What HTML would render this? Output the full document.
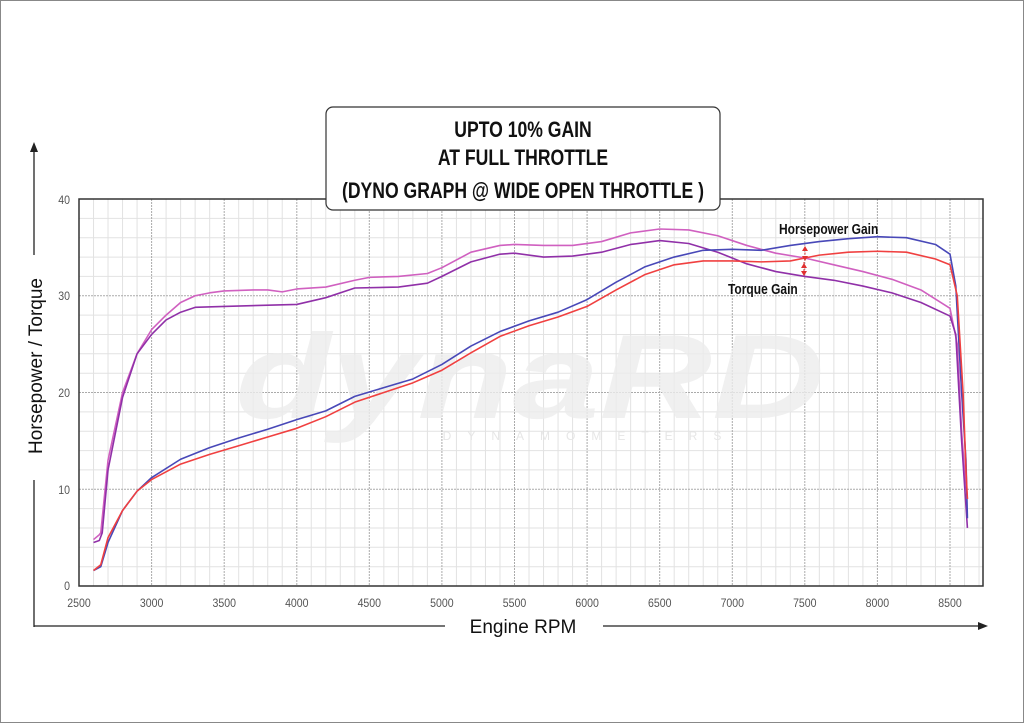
<!DOCTYPE html>
<html><head><meta charset="utf-8"><style>
html,body{margin:0;padding:0;background:#fff}
body{width:1024px;height:723px;overflow:hidden;position:relative;font-family:"Liberation Sans",sans-serif}
</style></head><body>
<svg width="1024" height="723" viewBox="0 0 1024 723" xmlns="http://www.w3.org/2000/svg">
<rect x="0.5" y="0.5" width="1023" height="722" fill="#fff" stroke="#888"/>
<line x1="34" y1="148" x2="34" y2="255" stroke="#222" stroke-width="1.3"/>
<line x1="34" y1="480" x2="34" y2="627" stroke="#222" stroke-width="1.3"/>
<polygon points="34,142 30,152 38,152" fill="#222"/>
<text transform="translate(42,366) rotate(-90)" text-anchor="middle" font-size="19" fill="#111">Horsepower / Torque</text>
<line x1="34" y1="626" x2="445" y2="626" stroke="#222" stroke-width="1.3"/>
<line x1="603" y1="626" x2="980" y2="626" stroke="#222" stroke-width="1.3"/>
<polygon points="988,626 978,622 978,630" fill="#222"/>
<text x="523" y="633" text-anchor="middle" font-size="19" fill="#111">Engine RPM</text>
<g stroke="#e2e2e2" stroke-width="1">
<line x1="79" y1="218.4" x2="983" y2="218.4"/><line x1="79" y1="237.7" x2="983" y2="237.7"/><line x1="79" y1="257.1" x2="983" y2="257.1"/><line x1="79" y1="276.4" x2="983" y2="276.4"/>
<line x1="79" y1="315.1" x2="983" y2="315.1"/><line x1="79" y1="334.5" x2="983" y2="334.5"/><line x1="79" y1="353.8" x2="983" y2="353.8"/><line x1="79" y1="373.2" x2="983" y2="373.2"/>
<line x1="79" y1="411.9" x2="983" y2="411.9"/><line x1="79" y1="431.2" x2="983" y2="431.2"/><line x1="79" y1="450.6" x2="983" y2="450.6"/><line x1="79" y1="469.9" x2="983" y2="469.9"/>
<line x1="79" y1="508.6" x2="983" y2="508.6"/><line x1="79" y1="528" x2="983" y2="528"/><line x1="79" y1="547.3" x2="983" y2="547.3"/><line x1="79" y1="566.7" x2="983" y2="566.7"/>
</g>
<g id="vminor" stroke="#e2e2e2" stroke-width="1"></g>
<g stroke="#aaa" stroke-width="1" stroke-dasharray="2,1">
<line x1="79" y1="295.8" x2="983" y2="295.8"/><line x1="79" y1="392.5" x2="983" y2="392.5"/><line x1="79" y1="489.3" x2="983" y2="489.3"/>
<line x1="151.6" y1="199" x2="151.6" y2="586"/><line x1="224.2" y1="199" x2="224.2" y2="586"/><line x1="296.8" y1="199" x2="296.8" y2="586"/><line x1="369.3" y1="199" x2="369.3" y2="586"/><line x1="441.9" y1="199" x2="441.9" y2="586"/><line x1="514.5" y1="199" x2="514.5" y2="586"/><line x1="587.1" y1="199" x2="587.1" y2="586"/><line x1="659.7" y1="199" x2="659.7" y2="586"/><line x1="732.3" y1="199" x2="732.3" y2="586"/><line x1="804.8" y1="199" x2="804.8" y2="586"/><line x1="877.4" y1="199" x2="877.4" y2="586"/><line x1="950" y1="199" x2="950" y2="586"/>
</g>
<text x="530" y="418" text-anchor="middle" font-size="120" font-style="italic" font-weight="bold" fill="#ececec" fill-opacity="0.8" transform="translate(530,0) scale(1.3,1) translate(-530,0)">dynaRD</text>
<text x="590" y="440" text-anchor="middle" font-size="12" fill="#e6e6e6" letter-spacing="16">DYNAMOMETERS</text>
<rect x="79" y="199" width="904" height="387" fill="none" stroke="#333" stroke-width="1.5"/>
<g font-size="12" fill="#555">
<g text-anchor="end">
<text transform="translate(70,204) scale(0.88,1)">40</text><text transform="translate(70,300) scale(0.88,1)">30</text><text transform="translate(70,397) scale(0.88,1)">20</text><text transform="translate(70,494) scale(0.88,1)">10</text><text transform="translate(70,590) scale(0.88,1)">0</text>
</g>
<g text-anchor="middle">
<text transform="translate(79,607) scale(0.88,1)">2500</text><text transform="translate(151.6,607) scale(0.88,1)">3000</text><text transform="translate(224.2,607) scale(0.88,1)">3500</text><text transform="translate(296.8,607) scale(0.88,1)">4000</text><text transform="translate(369.3,607) scale(0.88,1)">4500</text><text transform="translate(441.9,607) scale(0.88,1)">5000</text><text transform="translate(514.5,607) scale(0.88,1)">5500</text><text transform="translate(587.1,607) scale(0.88,1)">6000</text><text transform="translate(659.7,607) scale(0.88,1)">6500</text><text transform="translate(732.3,607) scale(0.88,1)">7000</text><text transform="translate(804.8,607) scale(0.88,1)">7500</text><text transform="translate(877.4,607) scale(0.88,1)">8000</text><text transform="translate(950,607) scale(0.88,1)">8500</text>
</g></g>
<g transform="translate(-283.92,586) scale(0.145167,-9.675)" fill="none" stroke-width="1.6" stroke-linejoin="round">
<polyline vector-effect="non-scaling-stroke" stroke="#d060c0" points="2600,4.8 2640,5.3 2650,5.5 2700,13 2800,20 2900,24 3000,26.5 3100,28 3200,29.3 3300,30 3400,30.3 3500,30.5 3700,30.6 3800,30.6 3900,30.4 4000,30.7 4200,30.9 4400,31.6 4500,31.9 4700,32 4900,32.3 5000,32.9 5200,34.5 5400,35.2 5500,35.3 5700,35.2 5900,35.2 6100,35.6 6300,36.5 6500,36.9 6700,36.8 6900,36.2 7100,35.2 7300,34.4 7500,33.9 7700,33.2 7900,32.5 8100,31.7 8300,30.6 8500,28.7 8550,25 8580,16 8600,12 8620,9"/>
<polyline vector-effect="non-scaling-stroke" stroke="#9030a8" points="2600,4.5 2640,4.7 2660,5.5 2700,12 2800,19.5 2900,24 3000,26 3100,27.5 3200,28.3 3300,28.8 3500,28.9 4000,29.1 4200,29.8 4400,30.8 4700,30.9 4900,31.3 5000,32 5200,33.5 5400,34.3 5500,34.4 5700,34 5900,34.1 6100,34.5 6300,35.3 6500,35.7 6700,35.4 6900,34.5 7100,33.3 7300,32.5 7500,32 7700,31.6 7900,31 8100,30.3 8300,29.3 8500,27.9 8540,26 8580,15 8620,6"/>
<polyline vector-effect="non-scaling-stroke" stroke="#4848b8" points="2600,1.6 2650,2 2700,4.5 2800,7.8 2900,9.8 3000,11.2 3200,13.1 3400,14.3 3600,15.3 3800,16.2 4000,17.2 4200,18.1 4400,19.6 4600,20.5 4800,21.4 5000,22.9 5200,24.8 5400,26.3 5600,27.4 5800,28.3 6000,29.6 6200,31.4 6400,33 6600,34 6800,34.7 7000,34.8 7200,34.7 7400,35.2 7600,35.6 7800,35.9 8000,36.1 8200,36 8400,35.3 8500,34.3 8540,31 8580,20 8610,13 8620,7"/>
<polyline vector-effect="non-scaling-stroke" stroke="#f04040" points="2600,1.6 2650,2.2 2700,5 2800,7.8 2900,9.8 3000,11 3200,12.6 3400,13.6 3600,14.5 3800,15.4 4000,16.3 4200,17.5 4400,19 4600,20 4800,21 5000,22.3 5200,24.1 5400,25.8 5600,26.9 5800,27.8 6000,28.9 6200,30.6 6400,32.2 6600,33.2 6800,33.6 7000,33.6 7200,33.5 7400,33.6 7600,34.2 7800,34.5 8000,34.6 8200,34.5 8400,33.8 8500,33.2 8550,30 8590,20 8610,12 8620,9"/>
</g>
<g stroke="#e03030" stroke-width="1" stroke-dasharray="2,1.5"><line x1="805" y1="249" x2="805" y2="259"/><line x1="804" y1="262" x2="804" y2="274"/></g>
<g fill="#e03030"><polygon points="805,246 802,251 808,251"/><polygon points="805,261 802,256 808,256"/><polygon points="804,263 801,268 807,268"/><polygon points="804,276 801,271 807,271"/></g>
<g font-weight="bold" font-size="15" fill="#111">
<text transform="translate(779,234) scale(0.8,1)">Horsepower Gain</text>
<text transform="translate(728,294) scale(0.8,1)">Torque Gain</text>
</g>
<rect x="326" y="107" width="394" height="103" rx="7" fill="#fff" stroke="#333" stroke-width="1.2"/>
<g font-weight="bold" font-size="22" fill="#111" text-anchor="middle">
<text transform="translate(523,137) scale(0.8,1)">UPTO 10% GAIN</text>
<text transform="translate(523,165) scale(0.8,1)">AT FULL THROTTLE</text>
<text transform="translate(523,198) scale(0.8,1)">(DYNO GRAPH @ WIDE OPEN THROTTLE )</text>
</g>
</svg>
<script>
var g=document.getElementById('vminor');var s='';
for(var r=2600;r<8800;r+=100){if(r%500==0)continue;var x=79+(r-2500)*0.145167;s+='<line x1="'+x+'" y1="199" x2="'+x+'" y2="586"/>';}
g.innerHTML=s;
</script>
</body></html>
